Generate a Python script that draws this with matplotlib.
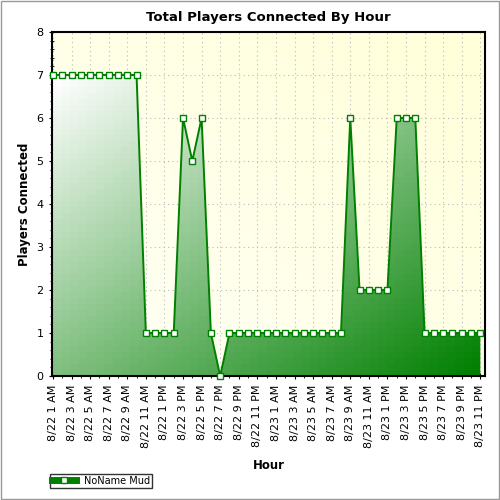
import matplotlib
matplotlib.use("Agg")
import matplotlib.pyplot as plt
import numpy as np
from matplotlib.ticker import MultipleLocator
from matplotlib.lines import Line2D
from matplotlib.patches import Rectangle

hours = ["8/22 %d %s" % (h, ap) for ap in ["AM", "PM"] for h in [12,1,2,3,4,5,6,7,8,9,10,11]][1:] + \
        ["8/23 %d %s" % (h, ap) for ap in ["AM", "PM"] for h in [12,1,2,3,4,5,6,7,8,9,10,11]]
values = [7]*10 + [1,1,1,1,6,5,6,1,0] + [1]*13 + [6,2,2,2,2,6,6,6] + [1]*7
series_name = "NoName Mud"

fig = plt.figure(figsize=(5,5), dpi=100)
fig.patches.append(Rectangle((0.002,0.002), 0.996, 0.996, transform=fig.transFigure,
                             fill=False, edgecolor='#999999', lw=1))
ax = fig.add_axes([0.104, 0.248, 0.866, 0.688])
x = np.arange(len(values))
ax.set_xlim(-0.1, len(values)-1+0.5)
ax.set_ylim(0, 8)

gx, gy = np.meshgrid(np.linspace(0,1,50), np.linspace(0,1,50))
t = (gx + (1-gy)) / 2
c1 = np.array([1, 1, 0.97]); c2 = np.array([1, 1, 0.85])
bg = c1*(1-t[...,None]) + c2*t[...,None]
ax.imshow(bg, extent=[-0.1, len(values)-0.5, 0, 8], aspect='auto', zorder=0, origin='upper')

ax.grid(True, color='#bbbbbb', linestyle=(0,(1,3)), linewidth=0.8, zorder=1)
ax.xaxis.set_major_locator(MultipleLocator(2))
ax.xaxis.set_minor_locator(MultipleLocator(1))
ax.yaxis.set_major_locator(MultipleLocator(1))
ax.yaxis.set_minor_locator(MultipleLocator(0.2))

poly = ax.fill_between(x, values, 0, facecolor='none', edgecolor='none', zorder=2)
t2 = (gx + gy) / 2
w = np.array([1, 1, 1]); g = np.array([0, 0.5, 0])
fg = w*(1-t2[...,None]) + g*t2[...,None]
im = ax.imshow(fg, extent=[0, len(values)-1, 0, 7], aspect='auto', zorder=2, origin='upper')
im.set_clip_path(poly.get_paths()[0], transform=ax.transData)

ax.plot(x, values, color='#008000', lw=1.4, marker='s', ms=4.5, mfc='white', mec='#008000', mew=1, zorder=3, clip_on=False)

ax.set_xticks(x[::2])
ax.set_xticklabels(hours[::2], rotation=90, fontsize=8)
ax.tick_params(axis='y', labelsize=8)
ax.tick_params(which='major', length=5, direction='inout')
ax.tick_params(which='minor', length=3, direction='inout')
ax.set_ylabel("Players Connected", fontsize=8.5, fontweight='bold')
ax.set_xlabel("Hour", fontsize=8.5, fontweight='bold', labelpad=8)
ax.set_title("Total Players Connected By Hour", fontsize=9.5, fontweight='bold', pad=8)
for s in ax.spines.values():
    s.set_linewidth(1.5)

h = Line2D([0],[0], color='#008000', lw=5, marker='s', ms=5, mfc='white', mec='#008000')
fig.legend([h], [series_name], loc='lower left', bbox_to_anchor=(0.09, 0.015), fontsize=7,
           frameon=True, fancybox=False, edgecolor='black', borderpad=0.2, handlelength=2.5)
fig.savefig("out.png", dpi=100)
